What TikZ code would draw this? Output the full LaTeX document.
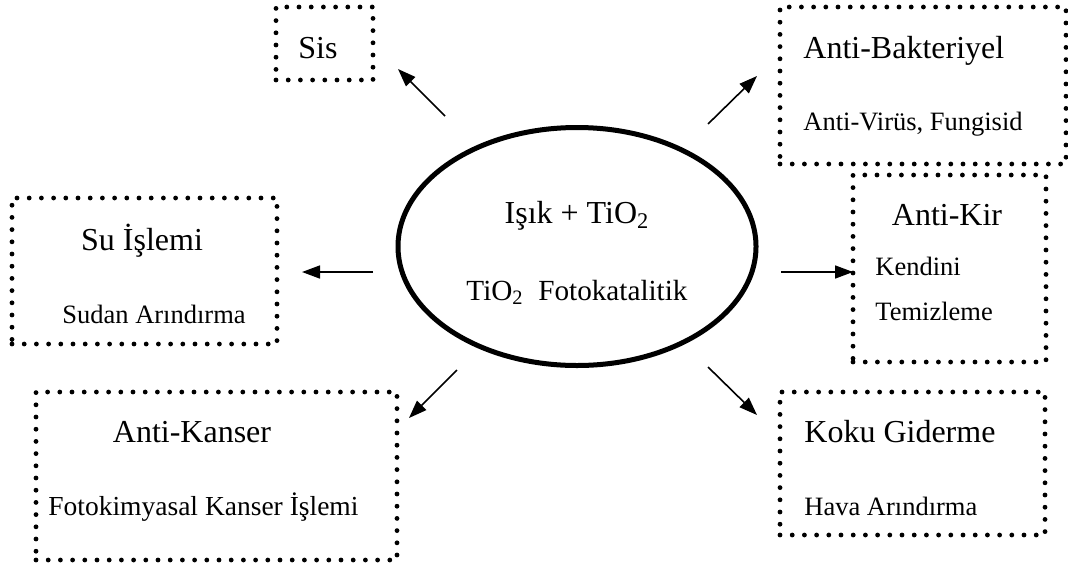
\documentclass[tikz,border=0pt]{standalone}
\usepackage{fontspec}
\IfFontExistsTF{LiberationSerif-Regular.ttf}
  {\setmainfont{LiberationSerif}[Extension=.ttf, UprightFont=*-Regular,
     BoldFont=*-Bold, ItalicFont=*-Italic, BoldItalicFont=*-BoldItalic]}
  {\setmainfont{Liberation Serif}}
\usetikzlibrary{arrows.meta,shapes.geometric}
\newcommand{\bigtxt}{\fontsize{16}{19}\selectfont}
\newcommand{\midtxt}{\fontsize{14.6}{17}\selectfont}
\newcommand{\smalltxt}{\fontsize{13.25}{16}\selectfont}
\newcommand{\kantxt}{\fontsize{13.75}{16}\selectfont}
\begin{document}
\begin{tikzpicture}[x=0.5pt,y=-0.5pt,
  dotbox/.style={draw, rectangle, inner sep=0pt, line width=2.4pt,
    dash pattern=on 0pt off 6.1pt, line cap=round},
  hub/.style={draw, ellipse, inner sep=0pt, line width=2.5pt},
  big/.style={inner sep=0pt, font=\rmfamily\bigtxt},
  small/.style={inner sep=0pt, font=\rmfamily\smalltxt},
  arr/.style={-{Triangle[length=9pt,width=6.5pt]}, line width=0.8pt}]
\useasboundingbox (0,0) rectangle (1068,568);

% central ellipse
\node[hub, minimum width=179pt, minimum height=119pt] (hubnode) at (577,246.5) {};
\node[big, anchor=base] (h1) at (577,223) {Işık + TiO\textsubscript{2}};
\node[inner sep=0pt, font=\rmfamily\midtxt, anchor=base] (h2) at (577,300) {TiO\textsubscript{2}~~Fotokatalitik};

% boxes
\node[dotbox, minimum width=48.5pt, minimum height=36.5pt] (sis) at (324.5,43.5) {};
\node[big, anchor=base] (sist) at (318,58) {Sis};

\node[dotbox, minimum width=143pt, minimum height=78.5pt] (bak) at (923,85.5) {};
\node[big, anchor=base west] (bak1) at (803,58) {Anti-Bakteriyel};
\node[small, anchor=base west] (bak2) at (803,130) {Anti-Virüs, Fungisid};

\node[dotbox, minimum width=132.5pt, minimum height=73pt] (su) at (144.5,271) {};
\node[big, anchor=base] (su1) at (142,250) {Su İşlemi};
\node[small, anchor=base west] (su2) at (62,323) {Sudan Arındırma};

\node[dotbox, minimum width=96.5pt, minimum height=93.5pt] (kir) at (949.5,268.5) {};
\node[big, anchor=base] (kir1) at (947,225) {Anti-Kir};
\node[small, anchor=base west] (kir2) at (875,275) {Kendini};
\node[small, anchor=base west] (kir3) at (875,320) {Temizleme};

\node[dotbox, minimum width=180.5pt, minimum height=84pt] (kan) at (216.5,476) {};
\node[big, anchor=base] (kan1) at (192,442) {Anti-Kanser};
\node[inner sep=0pt, font=\rmfamily\kantxt, anchor=base west] (kan2) at (48,515) {Fotokimyasal Kanser İşlemi};

\node[dotbox, minimum width=132.5pt, minimum height=71.5pt] (kok) at (912.5,463.5) {};
\node[big, anchor=base west] (kok1) at (804,442) {Koku Giderme};
\node[small, anchor=base west] (kok2) at (804,515) {Hava Arındırma};

% arrow end points
\coordinate (sisA) at (445,116);  \coordinate (sisB) at (398,69);
\coordinate (bakA) at (708,124);  \coordinate (bakB) at (757,76);
\coordinate (suA)  at (373,272);  \coordinate (suB)  at (302,272);
\coordinate (kirA) at (781,272);  \coordinate (kirB) at (853,272);
\coordinate (kanA) at (457,370);  \coordinate (kanB) at (409,418);
\coordinate (kokA) at (708,367);  \coordinate (kokB) at (757,415);

\draw[arr] (sisA) -- (sisB);
\draw[arr] (bakA) -- (bakB);
\draw[arr] (suA) -- (suB);
\draw[arr] (kirA) -- (kirB);
\draw[arr] (kanA) -- (kanB);
\draw[arr] (kokA) -- (kokB);
\end{tikzpicture}
\end{document}
